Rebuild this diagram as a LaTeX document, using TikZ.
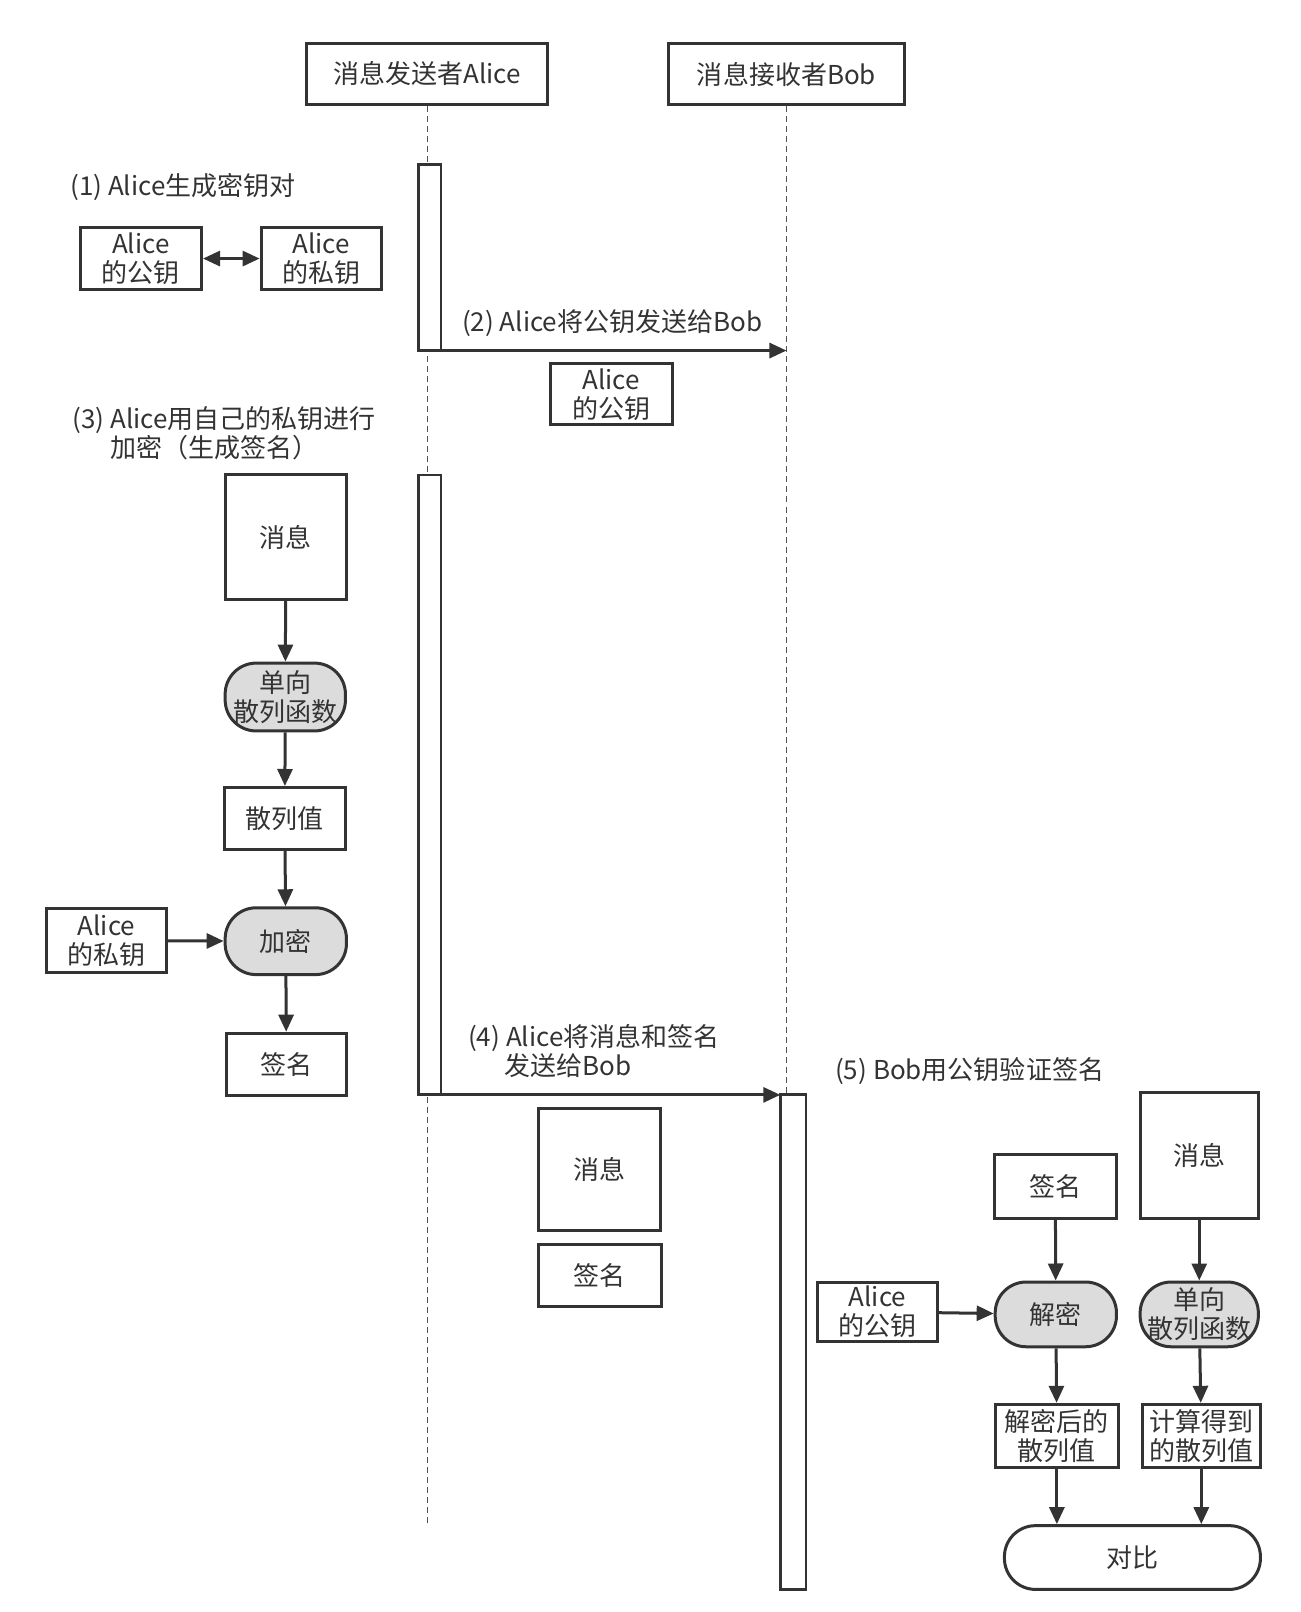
\documentclass[tikz,border=0pt]{standalone}
\usepackage{fontspec}
\setmainfont{Noto Sans CJK SC}
\usetikzlibrary{arrows.meta}
\definecolor{ink}{HTML}{333333}
\definecolor{fillg}{HTML}{DCDCDC}
\newcommand\bx[6]{\node[#1,minimum width={(#4-#2)*0.51385pt},minimum height={(#5-#3)*0.51385pt}] (#6) at ({(#2+#4)/2},{(#3+#5)/2})}
\begin{document}
\begin{tikzpicture}[x=0.51385pt,y=-0.51385pt,
  txt/.style={text=ink,font=\fontsize{13}{14.5}\selectfont},
  box/.style={txt,draw=ink,line width=1.5pt,inner sep=0pt,align=center},
  stad/.style={box,fill=fillg,rounded corners=15.5pt},
  act/.style={draw=ink,line width=1.4pt,fill=white,inner sep=0pt,outer sep=0pt},
  arr/.style={draw=ink,line width=1.5pt,-{Triangle[length=8.5pt,width=7.5pt]}},
  darr/.style={draw=ink,line width=1.5pt,{Triangle[length=8.5pt,width=7.5pt]}-{Triangle[length=8.5pt,width=7.5pt]}},
  life/.style={draw=ink!85,line width=0.5pt,dash pattern=on 3pt off 2pt},
  lbl/.style={txt,inner sep=0pt,anchor=west,align=left}]
\useasboundingbox (0,0) rectangle (1265,1568);
% headers
\bx{box}{298}{42}{533}{102}{alice} {消息发送者Alice};
\bx{box}{650}{42}{880}{102}{bob} {消息接收者Bob};
\coordinate (aliceEnd) at (419,1485);
\draw[life] (alice.south) -- (alice.south |- aliceEnd);
\bx{act}{759}{1065}{784}{1546}{act3} {};
\draw[life] (bob.south) -- (bob.south |- act3.north);
% activations
\bx{act}{407}{160}{429}{341}{act1} {};
\bx{act}{407}{462}{429}{1065}{act2} {};
% step 1
\node[lbl] (l1) at (68,182) {(1) Alice生成密钥对};
\bx{box}{78}{221}{196}{282}{pub1} {Alice\\的公钥};
\bx{box}{254}{221}{371}{282}{priv1} {Alice\\的私钥};
\draw[darr] (pub1) -- (priv1);
% step 2
\node[lbl] (l2) at (449,314) {(2) Alice将公钥发送给Bob};
\draw[arr] (act1.south west) -- (act1.south west -| bob.south);
\bx{box}{535}{354}{654}{413}{pub2} {Alice\\的公钥};
% step 3
\node[lbl] (l3) at (70,421) {(3) Alice用自己的私钥进行\\\hspace*{19pt}加密（生成签名）};
\bx{box}{219}{462}{337}{583}{msgA} {消息};
\bx{stad}{219}{645}{336}{711}{hashA} {单向\\散列函数};
\bx{box}{218}{766}{336}{826}{hvA} {散列值};
\bx{stad}{219}{883}{337}{948}{encA} {加密};
\bx{box}{45}{884}{162}{946}{priv2} {Alice\\的私钥};
\bx{box}{220}{1005}{337}{1066}{sigA} {签名};
\draw[arr] (msgA) -- (hashA);
\draw[arr] (hashA) -- (hvA);
\draw[arr] (hvA) -- (encA);
\draw[arr] (encA) -- (sigA);
\draw[arr] (priv2) -- (encA);
% step 4
\node[lbl] (l4) at (455,1022) {(4) Alice将消息和签名\\\hspace*{18pt}发送给Bob};
\draw[arr] (act2.south west) -- (act3.north west);
\bx{box}{524}{1078}{642}{1197}{msgT} {消息};
\bx{box}{524}{1211}{643}{1271}{sigT} {签名};
% step 5
\node[lbl] (l5) at (812,1042) {(5) Bob用公钥验证签名};
\bx{box}{967}{1123}{1086}{1185}{sigB} {签名};
\bx{box}{1109}{1063}{1224}{1185}{msgB} {消息};
\bx{box}{795}{1247}{912}{1305}{pub3} {Alice\\的公钥};
\bx{stad}{968}{1247}{1086}{1310}{decB} {解密};
\bx{stad}{1109}{1247}{1224}{1310}{hashB} {单向\\散列函数};
\bx{box}{968}{1366}{1088}{1427}{hvB1} {解密后的\\散列值};
\bx{box}{1111}{1366}{1226}{1427}{hvB2} {计算得到\\的散列值};
\bx{stad,fill=white}{977}{1484}{1226}{1546}{cmp} {对比};
\draw[arr] (sigB) -- (decB);
\draw[arr] (pub3) -- (decB);
\draw[arr] (decB) -- (hvB1);
\draw[arr] (msgB.south) -- (msgB.south |- hashB.north);
\draw[arr] (hashB) -- (hvB2);
\draw[arr] (hvB1.south) -- (hvB1.south |- cmp.north);
\draw[arr] (hvB2.south) -- (hvB2.south |- cmp.north);
\end{tikzpicture}
\end{document}
